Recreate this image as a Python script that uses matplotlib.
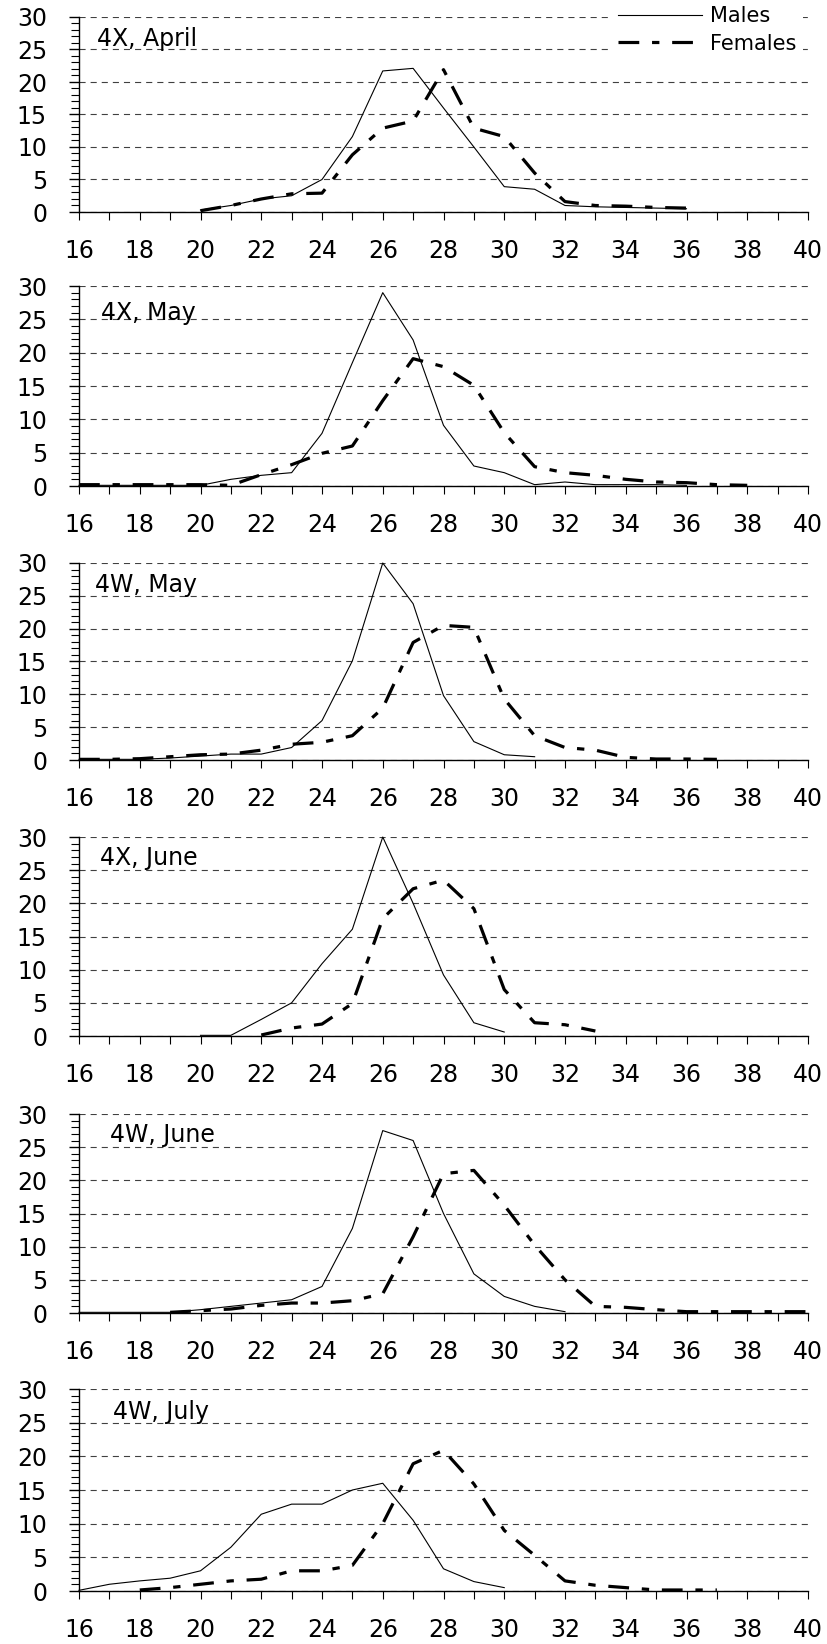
import numpy as np
import matplotlib
matplotlib.use('Agg')
import matplotlib.pyplot as plt
from matplotlib.ticker import MultipleLocator

# panel labels
titles = ['4X, April', '4X, May', '4W, May', '4X, June', '4W, June', '4W, July']

# first length class of each series, values are % frequency per length
apr4x_m_start, apr4x_m = 20, [0.3, 1.0, 2.0, 2.5, 5.0, 11.6, 21.7, 22.1, 16.0, 10.0,
                              3.9, 3.5, 1.0, 0.8, 0.7, 0.6, 0.5]
apr4x_f_start, apr4x_f = 20, [0.2, 1.0, 2.0, 2.8, 2.9, 8.8, 12.9, 14.0, 21.9, 12.9,
                              11.6, 6.0, 1.6, 1.0, 0.9, 0.7, 0.6]

may4x_m_start, may4x_m = 16, [0.1, 0.1, 0.1, 0.1, 0.1, 1.0, 1.6, 2.0, 7.9, 18.5, 29.0,
                              21.9, 9.1, 3.0, 2.0, 0.2, 0.6, 0.2, 0.2, 0.2, 0.1]
may4x_f_start, may4x_f = 16, [0.2, 0.2, 0.2, 0.2, 0.2, 0.1, 1.7, 3.2, 4.9, 6.0, 12.8,
                              19.1, 17.9, 15.1, 8.0, 2.9, 2.0, 1.6, 1.0, 0.6, 0.5,
                              0.2, 0.1]

may4w_m_start, may4w_m = 16, [0.1, 0.1, 0.1, 0.3, 0.6, 0.9, 0.9, 1.9, 6.0, 15.1, 30.0,
                              23.8, 9.8, 2.8, 0.8, 0.5]
may4w_f_start, may4w_f = 16, [0.1, 0.1, 0.2, 0.5, 0.8, 0.9, 1.5, 2.4, 2.7, 3.7, 7.9,
                              17.9, 20.5, 20.2, 9.3, 3.7, 1.9, 1.5, 0.4, 0.15, 0.15,
                              0.1]

jun4x_m_start, jun4x_m = 20, [0.1, 0.1, 2.5, 5.0, 10.9, 16.1, 30.0, 20.0, 9.2, 2.0, 0.6]
jun4x_f_start, jun4x_f = 22, [0.15, 1.2, 1.8, 4.9, 17.7, 22.2, 23.5, 19.2, 7.0, 2.0,
                              1.7, 0.75]

jun4w_m_start, jun4w_m = 16, [0.1, 0.1, 0.1, 0.1, 0.5, 1.0, 1.5, 2.0, 4.0, 12.75,
                              27.5, 26.0, 15.0, 5.9, 2.5, 1.0, 0.2]
jun4w_f_start, jun4w_f = 19, [0.1, 0.35, 0.6, 1.15, 1.5, 1.5, 1.85, 2.9, 11.5, 21.0,
                              21.5, 16.25, 10.25, 5.0, 1.0, 0.85, 0.5, 0.2, 0.2,
                              0.2, 0.2, 0.2]

jul4w_m_start, jul4w_m = 16, [0.1, 1.0, 1.5, 1.9, 3.0, 6.5, 11.4, 12.9, 12.9, 15.0,
                              16.0, 10.5, 3.3, 1.4, 0.5]
jul4w_f_start, jul4w_f = 18, [0.15, 0.5, 1.0, 1.5, 1.75, 3.0, 3.0, 3.8, 10.0, 18.9,
                              20.9, 15.9, 9.0, 5.3, 1.5, 0.85, 0.5, 0.15, 0.15, 0.15]

males = [(apr4x_m_start, apr4x_m), (may4x_m_start, may4x_m), (may4w_m_start, may4w_m),
         (jun4x_m_start, jun4x_m), (jun4w_m_start, jun4w_m), (jul4w_m_start, jul4w_m)]
females = [(apr4x_f_start, apr4x_f), (may4x_f_start, may4x_f), (may4w_f_start, may4w_f),
           (jun4x_f_start, jun4x_f), (jun4w_f_start, jun4w_f), (jul4w_f_start, jul4w_f)]

# axes boxes in pixels: (top, bottom)
W, H = 827, 1644
LEFT, RIGHT = 79, 808
boxes = [(17, 212), (286, 486), (563, 760), (837, 1036), (1114, 1313), (1389, 1591)]
title_pos = [(97, 39), (101, 313), (95, 585), (100, 858), (110, 1135), (113, 1412)]

plt.rcParams['font.family'] = ['DejaVu Sans']
fig = plt.figure(figsize=(W / 100, H / 100), dpi=100)

for i in range(6):
    top, bot = boxes[i]
    ax = fig.add_axes([LEFT / W, 1 - bot / H, (RIGHT - LEFT) / W, (bot - top) / H])

    ms, mv = males[i]
    fs, fv = females[i]
    ax.plot(np.arange(ms, ms + len(mv)), mv, color='black', lw=0.8,
            label='Males', clip_on=False, zorder=3)
    ax.plot(np.arange(fs, fs + len(fv)), fv, color='black', lw=2.3,
            dashes=(6.5, 4.0, 2.3, 4.0), label='Females', clip_on=False, zorder=4)

    ax.set_xlim(16, 40)
    ax.set_ylim(0, 30)
    ax.xaxis.set_major_locator(MultipleLocator(2))
    ax.xaxis.set_minor_locator(MultipleLocator(1))
    ax.yaxis.set_major_locator(MultipleLocator(5))
    ax.yaxis.set_minor_locator(MultipleLocator(1))

    ax.spines['top'].set_visible(False)
    ax.spines['right'].set_visible(False)
    for s in ['left', 'bottom']:
        ax.spines[s].set_linewidth(1.0)

    ax.tick_params(axis='y', which='major', direction='out', length=7, width=1,
                   labelsize=17, pad=16)
    ax.tick_params(axis='y', which='minor', direction='out', length=6, width=0.8)
    ax.tick_params(axis='x', which='both', direction='out', length=5.5, width=0.8)
    ax.tick_params(axis='x', which='major', labelsize=17, pad=14)

    ax.yaxis.grid(True, which='major', color='0.25', lw=0.8, linestyle=(0, (5.5, 4.5)))
    ax.set_axisbelow(True)

    tx, ty = title_pos[i]
    fig.text(tx / W, 1 - ty / H, titles[i], fontsize=17, ha='left', va='center')

    if i == 0:
        leg = ax.legend(loc='upper left', bbox_to_anchor=(612 / W, 1.0),
                        bbox_transform=fig.transFigure, borderaxespad=0,
                        borderpad=0.3, fontsize=15, handlelength=4.0,
                        handletextpad=0.4, labelspacing=0.35, frameon=True,
                        fancybox=False)
        leg.get_frame().set_facecolor('white')
        leg.get_frame().set_edgecolor('none')
        leg.get_frame().set_alpha(1)
        leg.set_zorder(10)

fig.savefig('out.png', dpi=100)
